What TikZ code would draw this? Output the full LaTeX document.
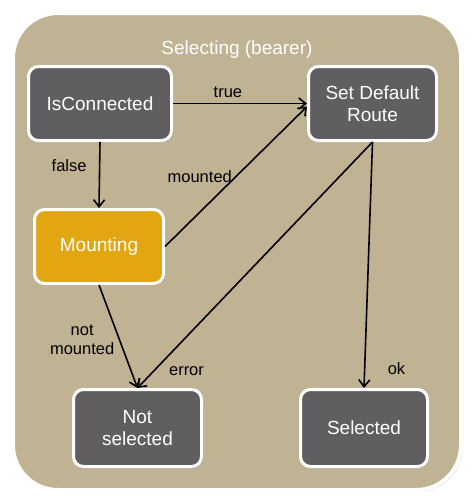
\documentclass[tikz,border=0pt]{standalone}
\usepackage{fontspec}
\setmainfont{Liberation Sans}
\usepackage{tikz}
\usetikzlibrary{arrows.meta,shadows}
\usepackage{xcolor}
\definecolor{bearerbg}{HTML}{BFB394}
\definecolor{stategray}{HTML}{615E62}
\definecolor{stategold}{HTML}{E2A612}

\begin{document}
\begin{tikzpicture}[x=1pt, y=-1pt,
	state/.style={draw=white, line width=3pt, rounded corners=10pt, fill=stategray,
		text=white, align=center, inner sep=0pt, font=\fontsize{19}{22}\selectfont,
		drop shadow={opacity=0.35, shadow xshift=1.5pt, shadow yshift=-1.5pt}},
	trans/.style={line width=1.6pt, -{Straight Barb[length=7pt,width=11pt]}},
	lbl/.style={text=black, align=center, font=\fontsize{16.5}{18.5}\selectfont}]
				\useasboundingbox (0, 0) rectangle (473, 504);
				\draw[draw=white, line width=4pt, rounded corners=45pt, fill=bearerbg,
					drop shadow={opacity=0.2, shadow xshift=2pt, shadow yshift=-2pt}]
					(13, 13) rectangle (461, 490);
				\node[text=white, font=\fontsize{19}{22}\selectfont] (title) at (237, 50) {Selecting (bearer)};
				\node[state, minimum width=143, minimum height=74] (isc) at (100, 103.5) {IsConnected};
				\node[state, minimum width=128, minimum height=74] (sdr) at (372.5, 103.5) {Set Default\\Route};
				\node[state, fill=stategold, minimum width=129, minimum height=74] (mnt) at (99, 246.5) {Mounting};
				\node[state, minimum width=128, minimum height=77] (nsel) at (137.5, 428) {Not\\selected};
				\node[state, minimum width=127, minimum height=77] (sel) at (364, 428) {Selected};
				\draw[trans] (isc.east) -- (sdr.west) node[lbl, pos=0.41, above=2pt] {true};
				\draw[trans] (isc.south) -- (mnt.north) node[lbl, pos=0.35, left=9pt] {false};
				\draw[trans] (mnt.east) -- ([yshift=-3pt]sdr.west) node[lbl, pos=0.5, left] {mounted};
				\draw[trans] (mnt.south) -- (nsel.north) node[lbl, pos=0.53, left=1pt] {not\\mounted};
				\draw[trans] (sdr.south) -- (nsel.north) node[lbl, pos=0.93, right=11pt] {error};
				\draw[trans] (sdr.south) -- (sel.north) node[lbl, pos=0.92, right=19pt] {ok};
			\end{tikzpicture}
\end{document}
